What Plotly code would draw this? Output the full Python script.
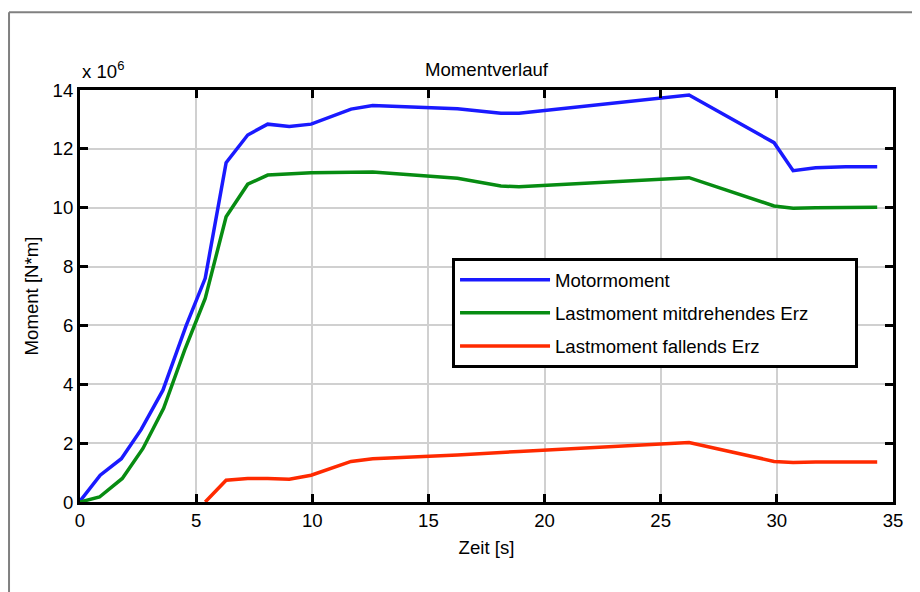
import plotly.graph_objects as go

# --- data ---
t_motor = [0, 0.87, 1.78, 2.63, 3.57, 4.57, 5.39, 6.29, 7.22, 8.08, 9.01, 9.95,
           11.67, 12.6, 16.25, 18.12, 18.9, 26.22, 29.88, 30.7, 31.67, 32.96, 34.32]
motormoment = [0.03, 0.91, 1.47, 2.46, 3.8, 5.99, 7.6, 11.53, 12.47, 12.84, 12.76, 12.84,
               13.35, 13.47, 13.36, 13.21, 13.21, 13.83, 12.21, 11.26, 11.36, 11.39, 11.39]

t_last = [0, 0.84, 1.82, 2.71, 3.6, 4.5, 5.39, 6.29, 7.22, 8.08, 9.95,
          11.67, 12.6, 16.25, 18.12, 18.9, 26.22, 29.88, 30.7, 31.67, 34.32]
last_mitdrehend = [0, 0.17, 0.8, 1.82, 3.18, 5.15, 6.92, 9.69, 10.8, 11.11, 11.19,
                   11.22, 11.21, 11.0, 10.74, 10.71, 11.02, 10.06, 9.98, 10.0, 10.02]

t_fall = [5.39, 6.29, 7.22, 8.08, 9.01, 9.95, 11.67, 12.6, 16.25, 18.12, 18.9,
          26.22, 29.88, 30.7, 31.67, 34.32]
last_fallend = [0.0, 0.74, 0.8, 0.8, 0.77, 0.91, 1.38, 1.47, 1.6, 1.69, 1.72,
                2.02, 1.38, 1.34, 1.36, 1.36]

series_names = ["Motormoment", "Lastmoment mitdrehendes Erz", "Lastmoment fallends Erz"]
scale = 1e6
x_ticks = [0, 5, 10, 15, 20, 25, 30, 35]
y_ticks = [0, 2, 4, 6, 8, 10, 12, 14]

FONT = "Liberation Sans, Arial, sans-serif"
FS = 18.6
PAD = "\u00a0" * 8  # widen legend box like the reference

fig = go.Figure()
fig.add_trace(go.Scatter(x=t_motor, y=[v * scale for v in motormoment], mode="lines",
                         name=series_names[0], legendgroup="a",
                         line=dict(color="#1a1aff", width=3.5)))
fig.add_trace(go.Scatter(x=t_last, y=[v * scale for v in last_mitdrehend], mode="lines",
                         name=series_names[1] + PAD, legendgroup="b",
                         line=dict(color="#078c12", width=3.5)))
fig.add_trace(go.Scatter(x=t_fall, y=[v * scale for v in last_fallend], mode="lines",
                         name=series_names[2], legendgroup="c",
                         line=dict(color="#ff2a00", width=3.5)))

axis_common = dict(
    showline=True, linecolor="black", linewidth=3, mirror="ticks",
    ticks="inside", ticklen=8, tickwidth=3, tickcolor="black",
    showgrid=True, gridcolor="#d0d0d0", gridwidth=2,
    zeroline=False, tickfont=dict(family=FONT, size=FS, color="black"),
)

fig.update_xaxes(range=[0, 35], tickvals=x_ticks, ticktext=[str(v) for v in x_ticks],
                 title=dict(text="Zeit [s]", font=dict(family=FONT, size=FS, color="black"),
                            standoff=11),
                 **axis_common)
fig.update_yaxes(range=[0, 14 * scale], tickvals=[v * scale for v in y_ticks],
                 ticktext=[str(v) for v in y_ticks],
                 title=dict(text="Moment [N*m]", font=dict(family=FONT, size=FS, color="black"),
                            standoff=10),
                 **axis_common)

fig.update_layout(
    width=912, height=584,
    margin=dict(l=72, r=27, t=82, b=90),
    paper_bgcolor="white", plot_bgcolor="white",
    font=dict(family=FONT, size=FS, color="black"),
    title=dict(text="Momentverlauf", xref="paper", x=0.5, xanchor="center",
               y=0.894, yanchor="middle",
               font=dict(family=FONT, size=FS, color="black")),
    showlegend=True,
    legend=dict(x=0.4576, y=0.592, xanchor="left", yanchor="top",
                bgcolor="white", bordercolor="black", borderwidth=3,
                font=dict(family=FONT, size=FS, color="black"),
                tracegroupgap=6, itemwidth=90),
    annotations=[dict(text="x 10<sup>6</sup>", xref="paper", yref="paper",
                      x=0.0, y=1.015, xanchor="left", yanchor="bottom", showarrow=False,
                      font=dict(family=FONT, size=FS, color="black"))],
    shapes=[
        dict(type="line", xref="paper", yref="paper", x0=-0.0873, y0=1.189, x1=1.05, y1=1.189,
             line=dict(color="#808080", width=2)),
        dict(type="line", xref="paper", yref="paper", x0=-0.0873, y0=1.189, x1=-0.0873, y1=-0.25,
             line=dict(color="#808080", width=2)),
    ],
)

fig.write_html("out.html")
